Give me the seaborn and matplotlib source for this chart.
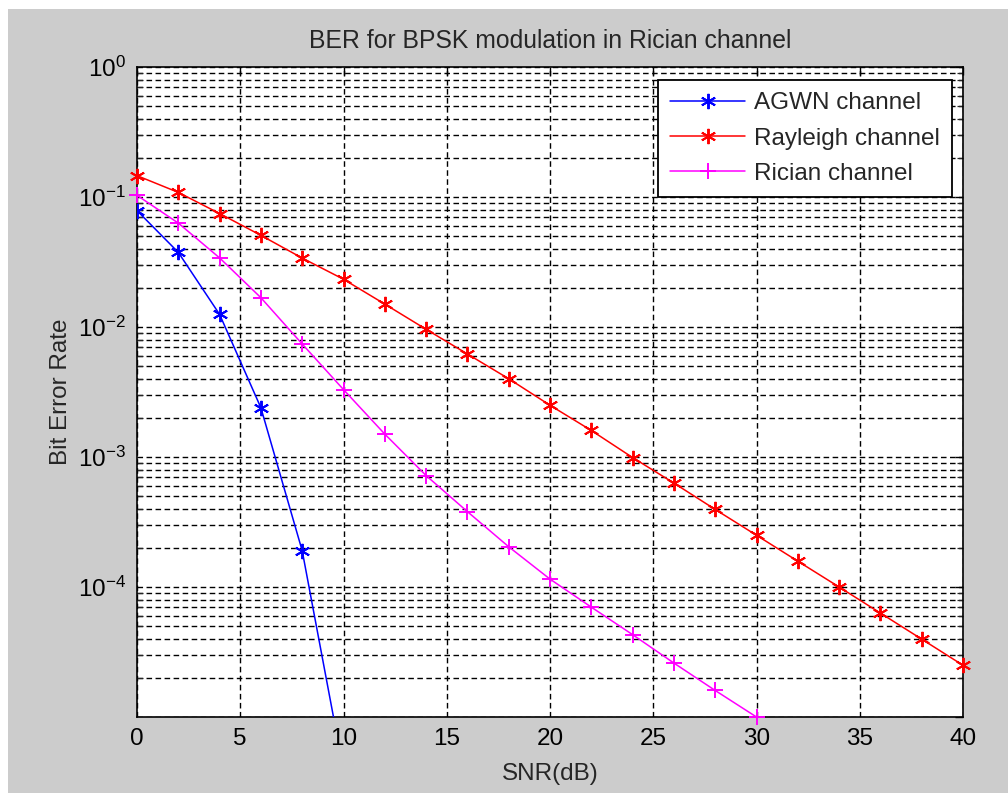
import numpy as np
import pandas as pd
import matplotlib
matplotlib.use("Agg")
import matplotlib.pyplot as plt
import matplotlib.ticker as mticker
from matplotlib.patches import Rectangle
import seaborn as sns

# BER curves for BPSK over three channel models
snr_awgn = [0, 2, 4, 6, 8, 10]
ber_awgn = [0.0786, 0.0375, 0.0125, 0.00239, 1.9e-4, 3.9e-6]

snr_rayleigh = [0, 2, 4, 6, 8, 10, 12, 14, 16, 18, 20,
                22, 24, 26, 28, 30, 32, 34, 36, 38, 40]
ber_rayleigh = [0.146, 0.1085, 0.0746, 0.0507, 0.0339, 0.0233, 0.0150,
                0.0096, 0.0062, 0.0040, 0.0025, 0.0016, 9.9e-4, 6.3e-4,
                3.95e-4, 2.5e-4, 1.58e-4, 1.0e-4, 6.3e-5, 3.97e-5, 2.5e-5]

snr_rician = [0, 2, 4, 6, 8, 10, 12, 14, 16, 18, 20, 22, 24, 26, 28, 30]
ber_rician = [0.103, 0.063, 0.034, 0.0168, 0.0074, 0.0033, 0.0015, 7.2e-4,
              3.8e-4, 2.04e-4, 1.15e-4, 7.0e-5, 4.3e-5, 2.6e-5, 1.6e-5, 1.0e-5]

series_names = ["AGWN channel", "Rayleigh channel", "Rician channel"]
x_ticks = [0, 5, 10, 15, 20, 25, 30, 35, 40]
y_ticks = [1e-5, 1e-4, 1e-3, 1e-2, 1e-1, 1e0]

sns.set_style("white")
plt.rcParams["font.family"] = ["Liberation Sans", "DejaVu Sans"]
plt.rcParams["mathtext.fontset"] = "custom"
plt.rcParams["mathtext.rm"] = "Liberation Sans"
plt.rcParams["mathtext.it"] = "Liberation Sans:italic"
plt.rcParams["mathtext.default"] = "regular"

FS = 17.5
fig = plt.figure(figsize=(10.08, 7.93), dpi=100)
fig.patch.set_facecolor("white")
fig.add_artist(Rectangle((8 / 1008, 0), 1, (793 - 9) / 793,
                         transform=fig.transFigure, facecolor="#cccccc",
                         edgecolor="none", zorder=-5))

ax = fig.add_axes([137 / 1008, (793 - 717) / 793, 826 / 1008, 650 / 793])
ax.set_facecolor("white")

asterisk = (6, 2, 0)
specs = [
    (snr_awgn, ber_awgn, "#0000ff", asterisk, True),
    (snr_rayleigh, ber_rayleigh, "#ff0000", asterisk, False),
    (snr_rician, ber_rician, "#ff00ff", "+", False),
]
for (xs, ys, col, mk, clip), name in zip(specs, series_names):
    df = pd.DataFrame({"snr": xs, "ber": ys})
    sns.lineplot(data=df, x="snr", y="ber", ax=ax, color=col, marker=mk,
                 markersize=11, markeredgecolor=col, markerfacecolor=col,
                 markeredgewidth=1.4, linewidth=1.1, label=name,
                 clip_on=clip, zorder=3)

ax.set_yscale("log")
ax.set_xlim(0, 40)
ax.set_ylim(1e-5, 1)

ax.xaxis.set_major_locator(mticker.FixedLocator(x_ticks))
ax.xaxis.set_major_formatter(mticker.FixedFormatter([str(t) for t in x_ticks]))
ax.yaxis.set_major_locator(mticker.FixedLocator(y_ticks))
ax.yaxis.set_minor_locator(mticker.LogLocator(base=10, subs=np.arange(2, 10), numticks=20))
ax.yaxis.set_minor_formatter(mticker.NullFormatter())


def ylab(v, pos):
    e = int(round(np.log10(v)))
    if e == -5:
        return ""
    return r"$10^{%d}$" % e


ax.yaxis.set_major_formatter(mticker.FuncFormatter(ylab))

ax.tick_params(axis="both", which="major", direction="in", length=6, width=1.0,
               top=True, right=True, labelsize=FS, pad=8, colors="black")
ax.tick_params(axis="y", which="minor", direction="in", length=4, width=0.9,
               left=True, right=True)

dash = (0, (4, 2.5))
ax.grid(True, which="major", axis="x", color="black", linestyle=dash, linewidth=1.0)
ax.grid(True, which="both", axis="y", color="black", linestyle=dash, linewidth=1.0)
ax.set_axisbelow(True)

for s in ax.spines.values():
    s.set_visible(True)
    s.set_color("black")
    s.set_linewidth(1.2)

ax.set_title("BER for BPSK modulation in Rician channel", fontsize=FS + 0.3, pad=14)
ax.set_xlabel("SNR(dB)", fontsize=FS, labelpad=9)
ax.set_ylabel("Bit Error Rate", fontsize=FS, labelpad=4)

leg = ax.legend(loc="upper right", bbox_to_anchor=(0.9867, 0.980),
                borderaxespad=0, fontsize=FS, frameon=True, fancybox=False,
                framealpha=1, edgecolor="black", handlelength=3.1,
                handletextpad=0.36, borderpad=0.5, labelspacing=0.55)
leg.get_frame().set_linewidth(1.3)

fig.savefig("out.png", dpi=100)
